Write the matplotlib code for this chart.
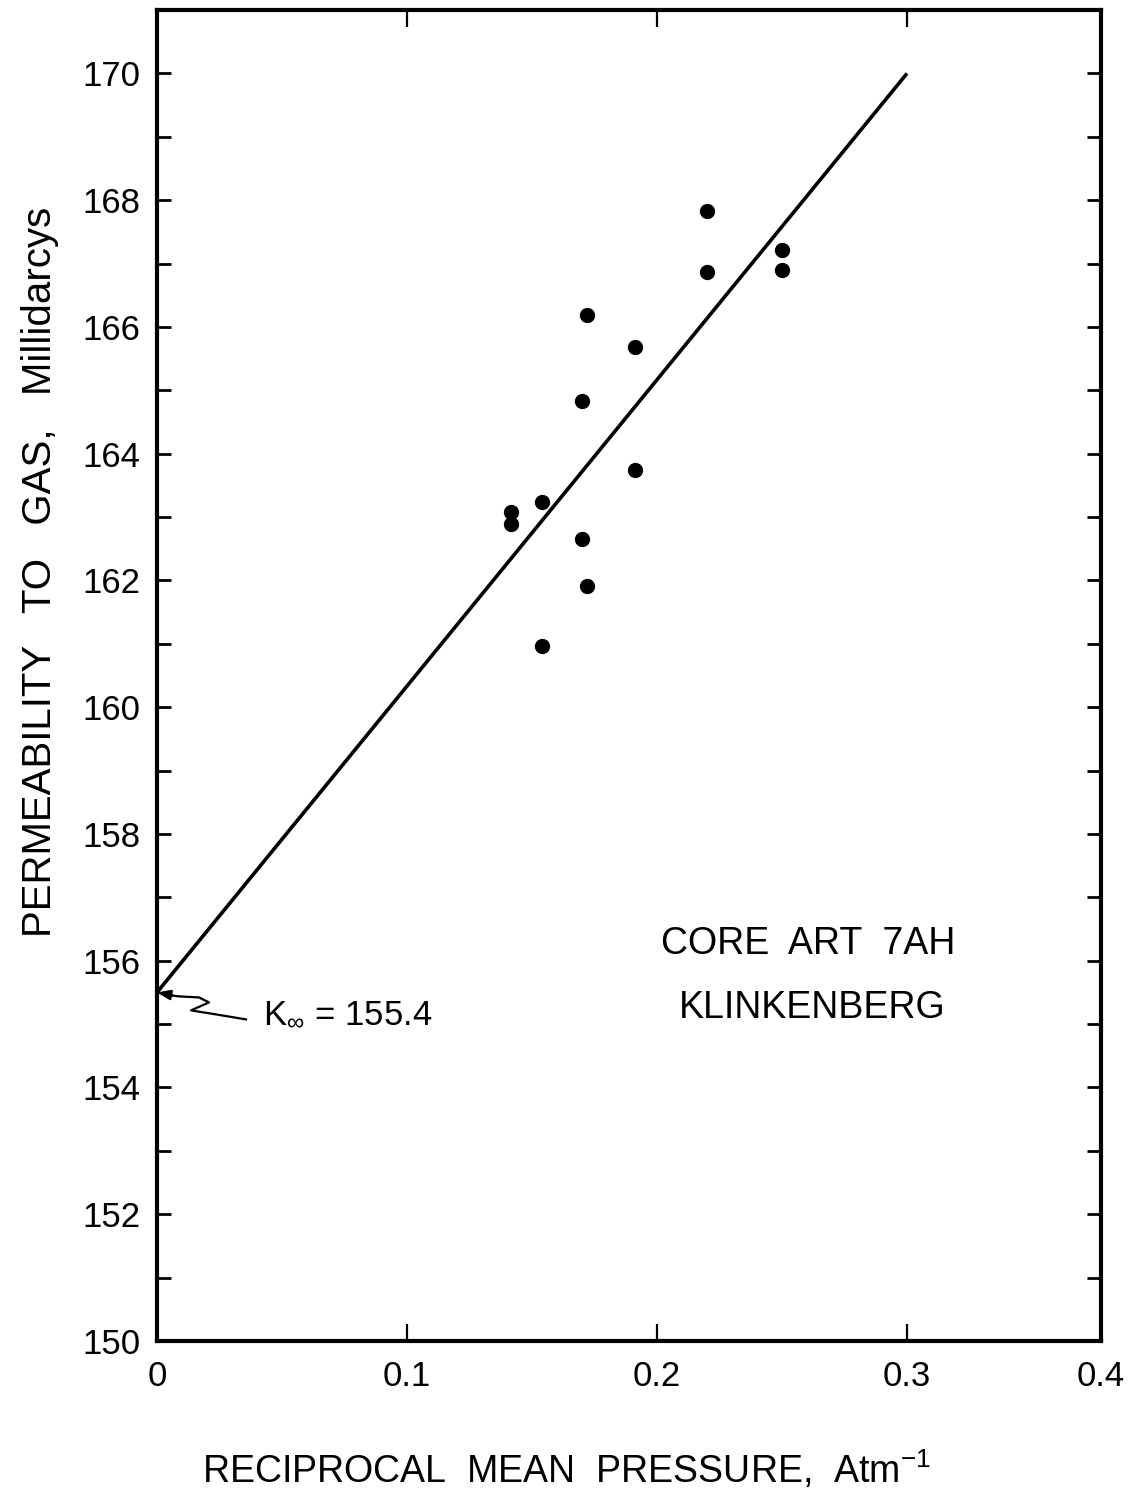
import matplotlib
matplotlib.use("Agg")
import matplotlib.pyplot as plt
import numpy as np
from matplotlib.lines import Line2D
from matplotlib.transforms import IdentityTransform
from matplotlib.ticker import MultipleLocator

plt.rcParams['font.family'] = ['Liberation Sans', 'DejaVu Sans']
plt.rcParams['mathtext.fontset'] = 'custom'
plt.rcParams['mathtext.rm'] = 'Liberation Sans'
plt.rcParams['mathtext.it'] = 'Liberation Sans'

# ---- data ----
recip_pressure = [0.220, 0.220, 0.250, 0.250, 0.172, 0.191, 0.170, 0.191,
                  0.1415, 0.1415, 0.154, 0.170, 0.172, 0.154]
permeability = [167.83, 166.87, 167.22, 166.90, 166.19, 165.68, 164.83, 163.74,
                163.08, 162.89, 163.23, 162.65, 161.91, 160.96]
fit_x = [0.0, 0.30]
fit_y = [155.5, 170.0]
k_inf = 155.5
x_ticks = [0.0, 0.1, 0.2, 0.3]
x_tick_labels = ["0", "0.1", "0.2", "0.3", "0.4"]
y_major = list(range(150, 171, 2))
y_tick_labels = [str(v) for v in y_major]
x_max = 0.3776
y_min, y_max = 150, 171.0

fig = plt.figure(figsize=(11.44, 15.12), dpi=100)
ax = fig.add_axes([157/1144, 1 - 1341/1512, (1101-157)/1144, (1341-10)/1512])

ax.plot(fit_x, fit_y, color='black', lw=2.6, solid_capstyle='butt')
ax.plot(recip_pressure, permeability, 'o', color='black', ms=10, mec='black')

ax.set_xlim(0, x_max)
ax.set_ylim(y_min, y_max)

ax.set_xticks(x_ticks + [x_max])
ax.set_xticklabels(x_tick_labels)
ax.set_yticks(y_major)
ax.set_yticklabels(y_tick_labels)
ax.yaxis.set_minor_locator(MultipleLocator(1))

ax.tick_params(axis='x', which='major', direction='in', length=12, width=1.6,
               top=True, bottom=True, labelsize=25, pad=14)
ax.tick_params(axis='y', which='both', direction='in', length=10, width=2.0,
               left=True, right=True, labelsize=25, pad=12)
for s in ax.spines.values():
    s.set_linewidth(3.0)

# annotation
ax.text(0.1123, 0.2464, "K$_{\\infty}$ = 155.4", transform=ax.transAxes,
        fontsize=25, ha='left', va='center')
ax.text(0.6896, 0.2983, "CORE  ART  7AH", transform=ax.transAxes,
        fontsize=27, ha='center', va='center')
ax.text(0.694, 0.2502, "KLINKENBERG", transform=ax.transAxes,
        fontsize=27, ha='center', va='center')

fig.canvas.draw()
tip = ax.transData.transform((0, k_inf))
dx = np.array([14, 22, 42, 52, 34, 59, 89])
dy = np.array([3, 4, 5, 10, 18, 22, 27])
fig.add_artist(Line2D(tip[0] + dx, tip[1] - dy, transform=IdentityTransform(),
                      color='black', lw=1.6))
ax.annotate('', xy=(0, k_inf), xycoords='data',
            xytext=(16, -3), textcoords='offset pixels',
            arrowprops=dict(arrowstyle='-|>,head_length=0.8,head_width=0.3',
                            color='black', lw=1.6, shrinkA=0, shrinkB=0))

fig.text(40/1144, 1 - 572/1512, "PERMEABILITY   TO   GAS,   Millidarcys", rotation=90,
         ha='center', va='center', fontsize=29)
fig.text(567/1144, 1 - 1470/1512, "RECIPROCAL  MEAN  PRESSURE,  Atm$^{-1}$",
         ha='center', va='center', fontsize=27)

fig.savefig("out.png", dpi=100)
